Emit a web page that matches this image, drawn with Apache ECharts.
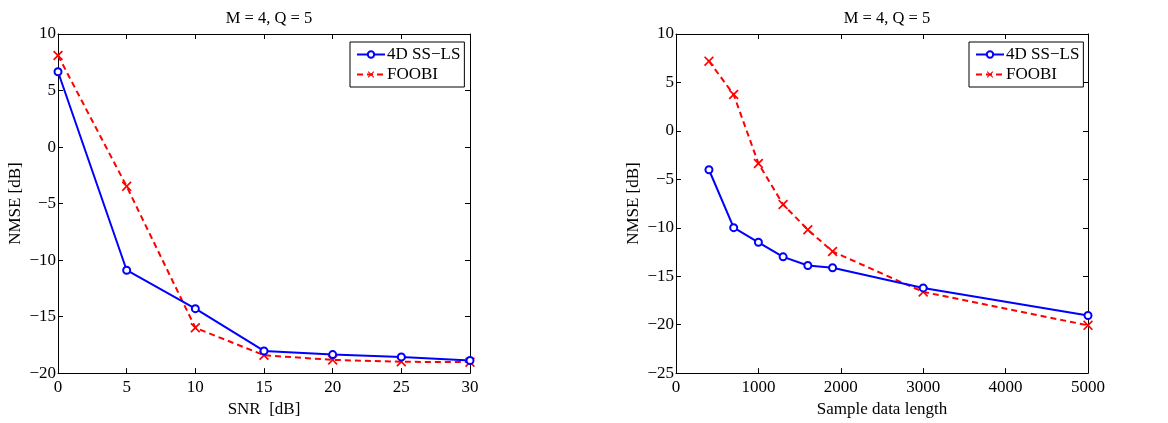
<!DOCTYPE html>
<html>
<head>
<meta charset="utf-8">
<script src="https://cdn.jsdelivr.net/npm/echarts@6/dist/echarts.min.js"></script>
<style>html,body{margin:0;padding:0;background:#fff}#c{width:1168px;height:423px}</style>
</head>
<body>
<div id="c"></div>
<script>
// ---- data ----
const snrDb = [0, 5, 10, 15, 20, 25, 30];
const snrSSLS = [6.66, -10.9, -14.3, -18.04, -18.36, -18.57, -18.89];
const snrFOOBI = [8.1, -3.48, -15.99, -18.42, -18.83, -19.0, -19.03];

const sampleLen = [400, 700, 1000, 1300, 1600, 1900, 3000, 5000];
const lenSSLS = [-4.01, -9.99, -11.5, -13.0, -13.89, -14.13, -16.21, -19.05];
const lenFOOBI = [7.2, 3.75, -3.36, -7.6, -10.2, -12.45, -16.62, -20.07];

const titleText = 'M = 4, Q = 5';
const nameSS = '4D SS\u2212LS';
const nameFO = 'FOOBI';

const FONT = 'Liberation Serif';
const X_PATH = 'path://M0,1.2L1.2,0L5,3.8L8.8,0L10,1.2L6.2,5L10,8.8L8.8,10L5,6.2L1.2,10L0,8.8L3.8,5Z';
const fmt = v => String(v).replace('-', '\u2212');

const chart = echarts.init(document.getElementById('c'));

function axes(gridIndex, min, max, interval, name, isX) {
  const base = {
    gridIndex, type: 'value', min, max, interval,
    axisLine: {show: true, onZero: false, lineStyle: {color: '#000', width: 1}},
    axisTick: {show: true, inside: true, length: 5, lineStyle: {color: '#000'}},
    splitLine: {show: false},
  };
  const main = Object.assign({}, base, {
    position: isX ? 'bottom' : 'left',
    name, nameLocation: 'middle',
    nameGap: isX ? 23 : 34,
    nameTextStyle: {fontFamily: FONT, fontSize: 17, color: '#000'},
    axisLabel: {show: true, fontFamily: FONT, fontSize: 17, color: '#000', margin: isX ? 6 : 2, formatter: fmt},
  });
  const sec = Object.assign({}, base, {
    position: isX ? 'top' : 'right',
    axisLabel: {show: false},
  });
  return [main, sec];
}

const xAxes = [].concat(
  axes(0, 0, 30, 5, 'SNR  [dB]', true),
  axes(1, 0, 5000, 1000, 'Sample data length', true)
);
const yAxes = [].concat(
  axes(0, -20, 10, 5, 'NMSE [dB]', false),
  axes(1, -25, 10, 5, 'NMSE [dB]', false)
);

function ssSeries(xi, yi, xs, ys) {
  return {
    name: nameSS, type: 'line', xAxisIndex: xi, yAxisIndex: yi,
    data: xs.map((x, i) => [x, ys[i]]),
    symbol: 'emptyCircle', symbolSize: 7,
    lineStyle: {color: '#0000ff', width: 2},
    itemStyle: {color: '#0000ff', borderWidth: 1.5},
    animation: false, z: 3,
  };
}
function foSeries(xi, yi, xs, ys) {
  return {
    name: nameFO, type: 'line', xAxisIndex: xi, yAxisIndex: yi,
    data: xs.map((x, i) => [x, ys[i]]),
    symbol: X_PATH, symbolSize: 10,
    lineStyle: {color: '#ff0000', width: 2, type: [6, 4]},
    itemStyle: {color: '#ff0000'},
    animation: false, z: 2,
  };
}

function legend(left) {
  return {
    left, top: 42, orient: 'vertical',
    data: [nameSS, nameFO],
    backgroundColor: '#fff', borderColor: '#000', borderWidth: 1,
    padding: [4, 4, 4, 6], itemGap: 3, itemWidth: 28, itemHeight: 8,
    textStyle: {fontFamily: FONT, fontSize: 17, color: '#000', padding: [0, 0, 0, -3]},
    selectedMode: false,
  };
}

chart.setOption({
  backgroundColor: '#fff',
  animation: false,
  title: [
    {text: titleText, left: 264, top: 5, textAlign: 'center', textStyle: {fontFamily: FONT, fontSize: 16.5, fontWeight: 'normal', color: '#000'}},
    {text: titleText, left: 882, top: 5, textAlign: 'center', textStyle: {fontFamily: FONT, fontSize: 16.5, fontWeight: 'normal', color: '#000'}},
  ],
  grid: [
    {left: 58, right: 698, top: 34, bottom: 47, show: false},
    {left: 676, right: 80, top: 34, bottom: 47, show: false},
  ],
  legend: [legend(350), legend(969)],
  xAxis: xAxes,
  yAxis: yAxes,
  series: [
    ssSeries(0, 0, snrDb, snrSSLS),
    foSeries(0, 0, snrDb, snrFOOBI),
    ssSeries(2, 2, sampleLen, lenSSLS),
    foSeries(2, 2, sampleLen, lenFOOBI),
  ],
});
</script>
</body>
</html>
